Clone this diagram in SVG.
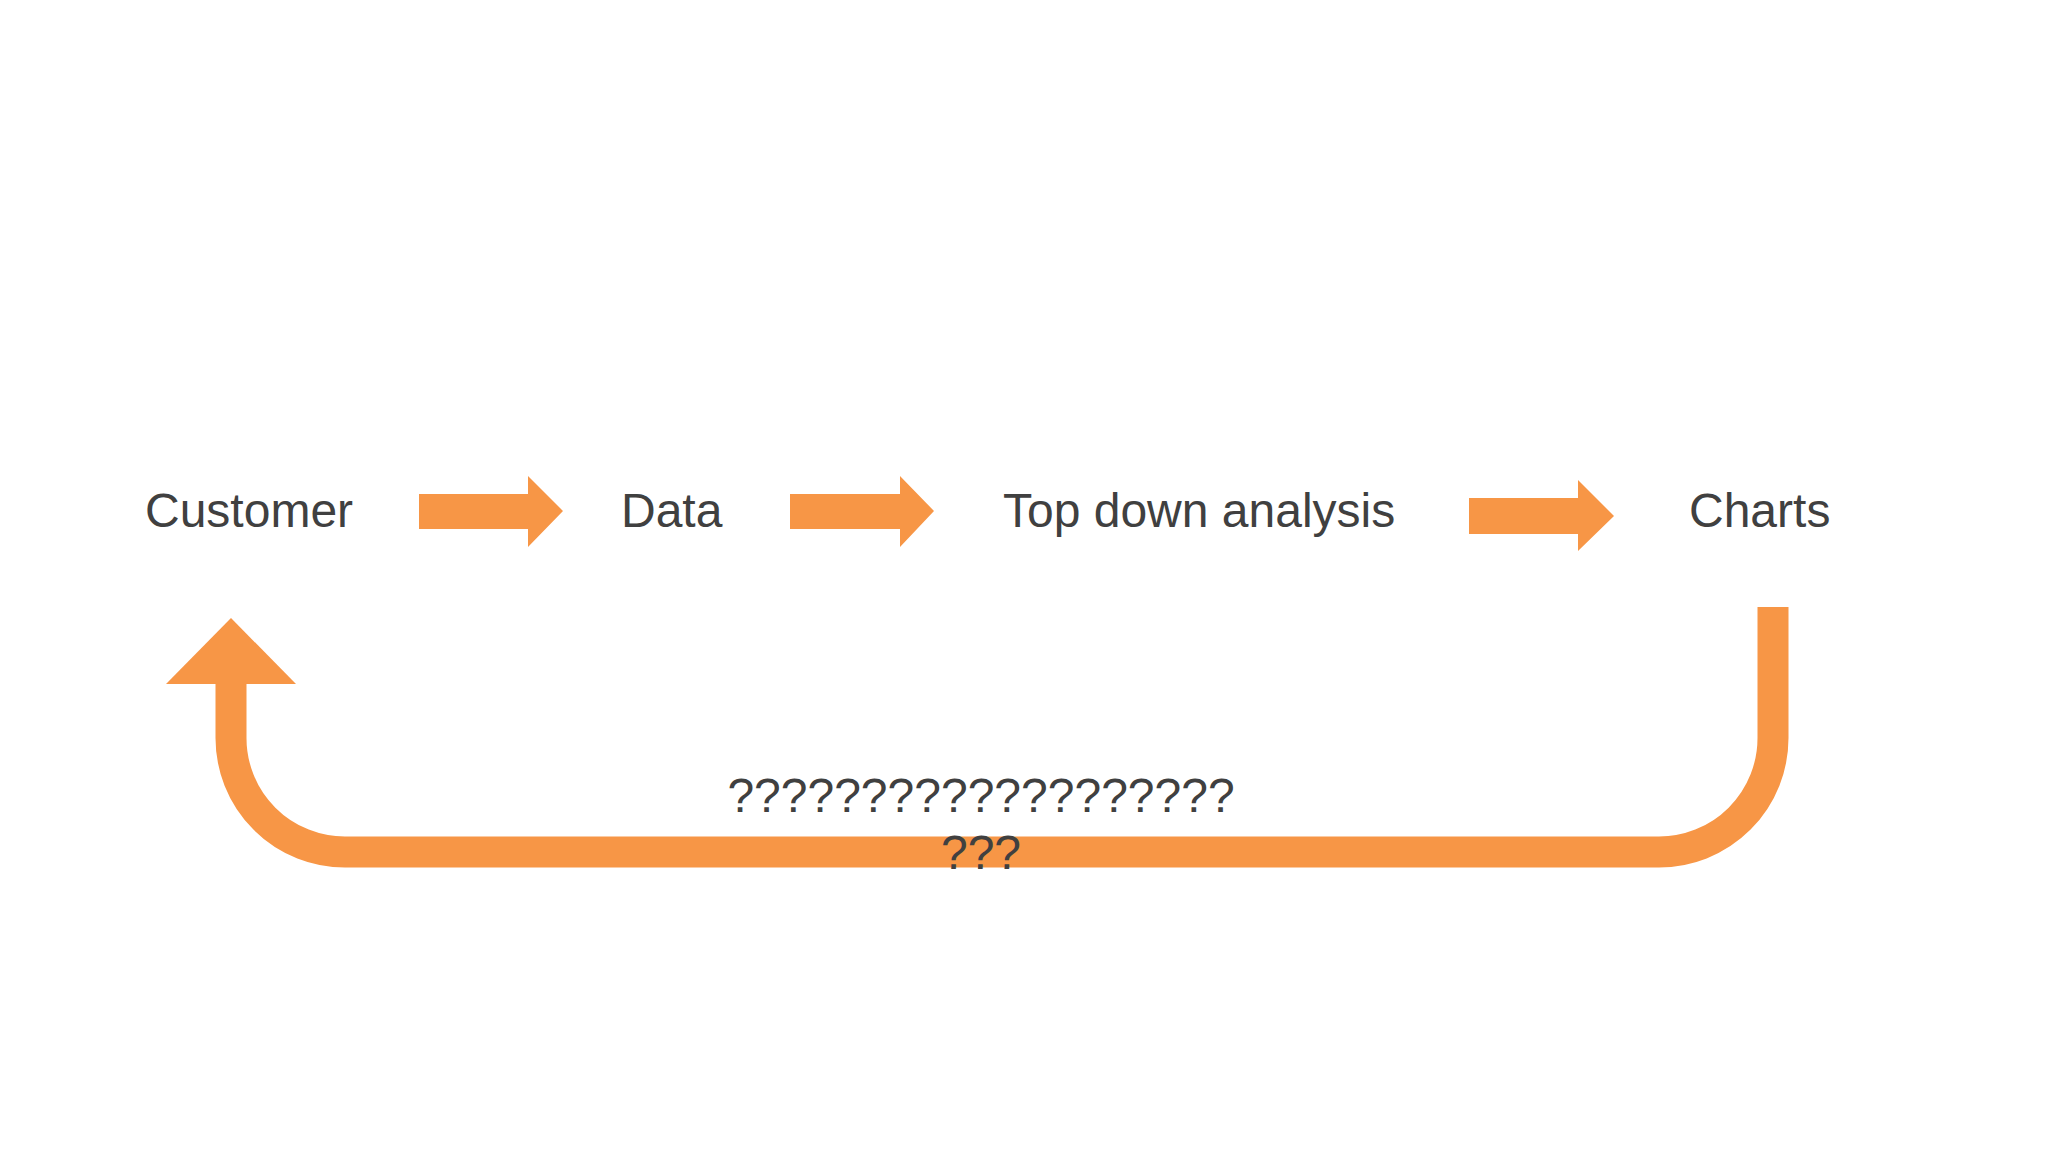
<svg xmlns="http://www.w3.org/2000/svg" width="2048" height="1152" viewBox="0 0 2048 1152">
<style>
.lbl{font-family:"Liberation Sans",Arial,sans-serif;font-size:48px;fill:#404040}
.arr{fill:#F79646}
.loop{fill:none;stroke:#F79646;stroke-width:31}
</style>
<rect width="2048" height="1152" fill="#FFFFFF"/>
<g id="node-customer"><text class="lbl" x="145" y="527">Customer</text></g>
<g id="node-data"><text class="lbl" x="621" y="527">Data</text></g>
<g id="node-topdown"><text class="lbl" x="1003" y="527">Top down analysis</text></g>
<g id="node-charts"><text class="lbl" x="1689" y="527">Charts</text></g>
<g id="connectors">
  <polygon class="arr" points="419,494 528,494 528,476 563,511 528,547 528,529 419,529"/>
  <polygon class="arr" points="790,494 900,494 900,476 934,511 900,547 900,529 790,529"/>
  <polygon class="arr" points="1469,498 1578,498 1578,480 1614,516 1578,551 1578,534 1469,534"/>
  <path class="loop" d="M1773 607 L1773 738 A114 114 0 0 1 1659 852 L345 852 A114 114 0 0 1 231 738 L231 683"/>
  <polygon class="arr" points="166,684 296,684 231,618"/>
</g>
<g id="loop-label">
  <text class="lbl" x="981" y="812" text-anchor="middle">???????????????????</text>
  <text class="lbl" x="981" y="869" text-anchor="middle">???</text>
</g>
</svg>
